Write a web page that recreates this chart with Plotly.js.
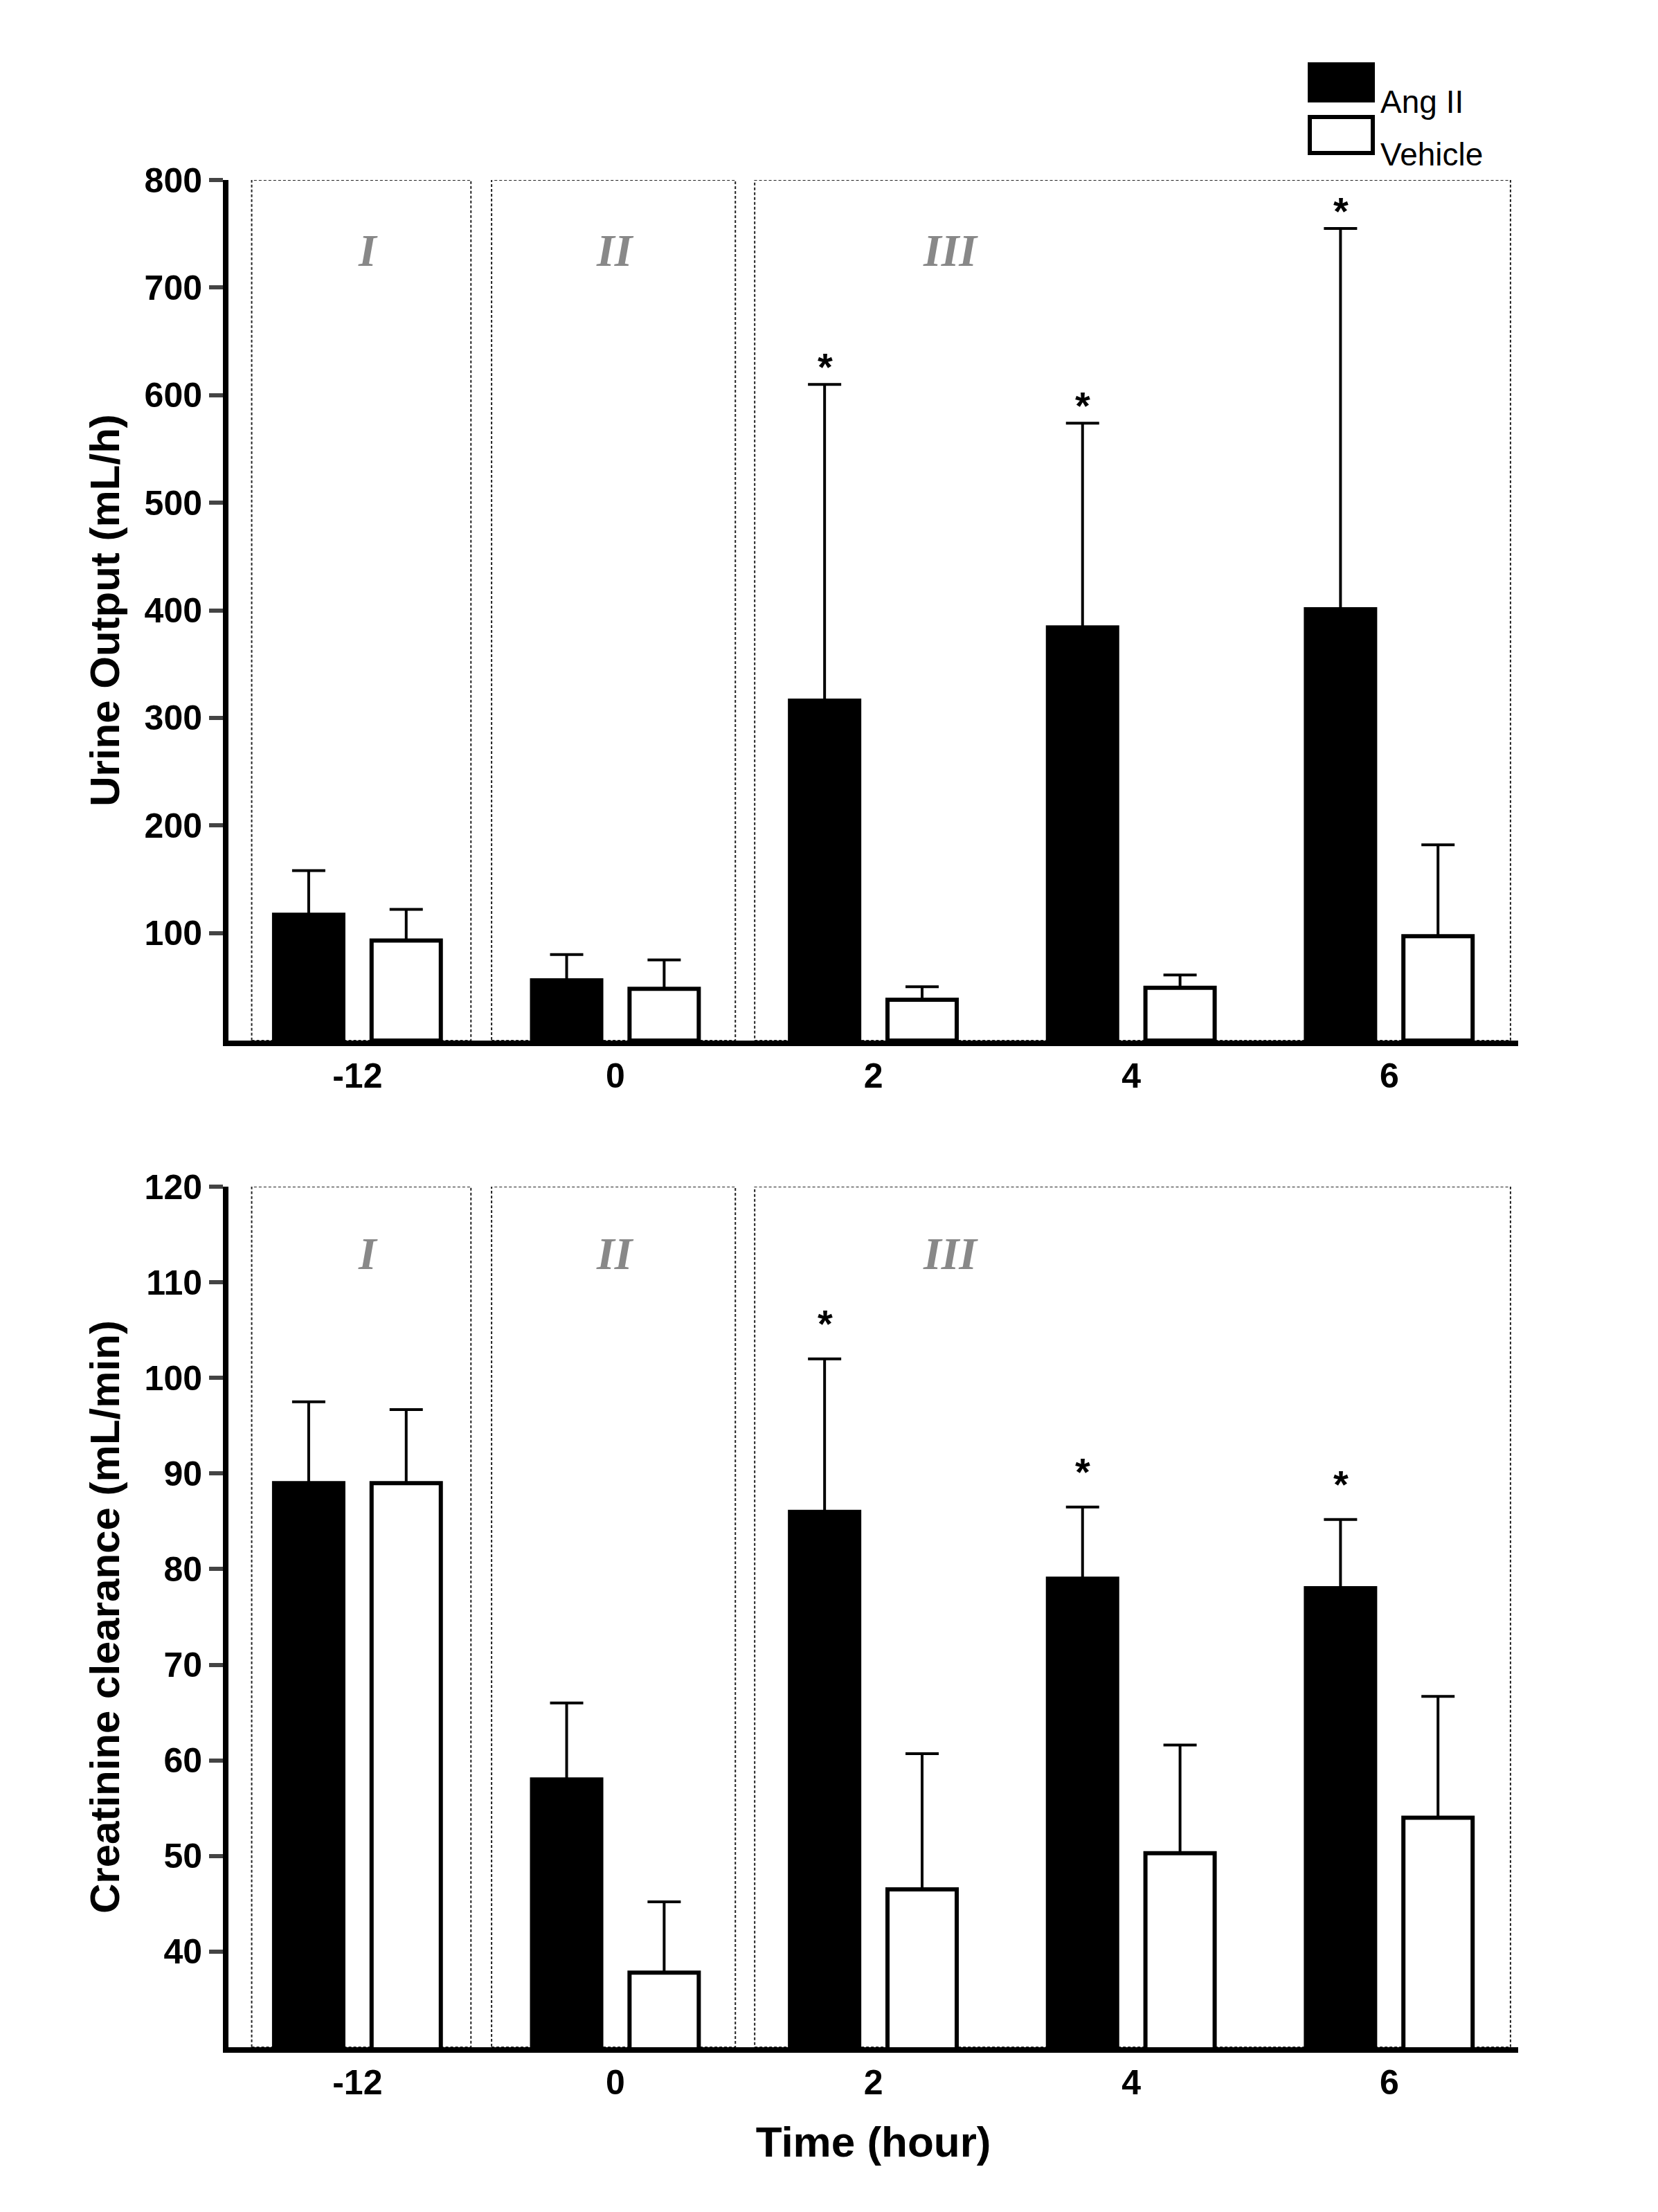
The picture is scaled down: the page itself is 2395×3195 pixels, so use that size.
<!DOCTYPE html>
<html>
<head>
<meta charset="utf-8">
<script src="https://cdn.plot.ly/plotly-3.0.1.min.js"></script>
<style>body{margin:0;background:#fff}#chart{width:2395px;height:3195px}</style>
</head>
<body>
<div id="chart"></div>
<script>
// data
var times = ["-12", "0", "2", "4", "6"];

var urineAng = [117, 56, 316, 384, 401];
var urineAngErr = [41, 24, 294, 190, 354];
var urineVeh = [93, 48, 38, 49, 97];
var urineVehErr = [29, 27, 12, 12, 85];

var creatAng = [89, 58, 86, 79, 78];
var creatAngErr = [8.5, 8, 16, 7.5, 7.2];
var creatVeh = [89, 37.8, 46.5, 50.3, 54];
var creatVehErr = [7.7, 7.4, 14.2, 11.3, 12.7];

var starIdx = [2, 3, 4];
var phases = ["I", "II", "III"];
var phaseSpans = [[-0.41, 0.44], [0.52, 1.465], [1.54, 4.47]];
var phaseLabelX = [0.04, 1.0, 2.3];
var legendNames = ["Ang II", "Vehicle"];

var FONT = "Liberation Sans, Arial, sans-serif";

function errOpts(arr) {
  return {type: "data", symmetric: false, array: arr, arrayminus: arr.map(function(){return 0;}),
          color: "black", thickness: 4, width: 24};
}

var traces = [
  {type: "bar", x: times, y: urineAng, name: "Ang II", xaxis: "x", yaxis: "y", showlegend: false,
   marker: {color: "black", line: {color: "black", width: 6}}, error_y: errOpts(urineAngErr)},
  {type: "bar", x: times, y: urineVeh, name: "Vehicle", xaxis: "x", yaxis: "y", showlegend: false,
   marker: {color: "white", line: {color: "black", width: 6}}, error_y: errOpts(urineVehErr)},
  {type: "bar", x: times, y: creatAng, name: "Ang II", showlegend: false, xaxis: "x2", yaxis: "y2",
   marker: {color: "black", line: {color: "black", width: 6}}, error_y: errOpts(creatAngErr)},
  {type: "bar", x: times, y: creatVeh, name: "Vehicle", showlegend: false, xaxis: "x2", yaxis: "y2",
   marker: {color: "white", line: {color: "black", width: 6}}, error_y: errOpts(creatVehErr)}
];

var shapes = [];
var annotations = [];
function addPanel(xa, ya, y0, y1, labelY, angVals, angErr, pad) {
  phaseSpans.forEach(function(s, i) {
    shapes.push({type: "rect", xref: xa, yref: ya, x0: s[0], x1: s[1], y0: y0, y1: y1,
                 line: {color: "#222", width: 2, dash: "4px,3px"}, layer: "below"});
    annotations.push({xref: xa, yref: ya, x: phaseLabelX[i], y: labelY, text: "<b><i>" + phases[i] + "</i></b>",
                      showarrow: false, font: {family: "Liberation Serif, serif", size: 66, color: "#888"}});
  });
  starIdx.forEach(function(i) {
    annotations.push({xref: xa, yref: ya, x: i, xshift: -70, y: angVals[i] + angErr[i], yanchor: "bottom", yshift: pad,
                      text: "<b>*</b>", showarrow: false, font: {family: FONT, size: 56, color: "black"}});
  });
}
addPanel("x", "y", 0, 800, 735, urineAng, urineAngErr, -8);
addPanel("x2", "y2", 30, 120, 113, creatAng, creatAngErr, 18);

// legend drawn by hand (big boxes as in the figure)
legendNames.forEach(function(n, i) {
  var top = 1 - (93 + i * 76) / 3195, bot = 1 - (145 + i * 76) / 3195;
  shapes.push({type: "rect", xref: "paper", yref: "paper", x0: 1892 / 2395, x1: 1983 / 2395, y0: bot, y1: top,
               fillcolor: i === 0 ? "black" : "white", line: {color: "black", width: 6}});
  annotations.push({xref: "paper", yref: "paper", x: 1992 / 2395, y: (top + bot) / 2, xanchor: "left",
                    text: n, showarrow: false, font: {family: FONT, size: 46, color: "black"}});
});

function xax(anchor, titleText) {
  return {domain: [0.1378, 0.9157], anchor: anchor, type: "category", range: [-0.5, 4.5],
          showline: true, linewidth: 8, linecolor: "black", ticks: "", showgrid: false,
          tickfont: {family: FONT, size: 50, color: "black", weight: "bold"},
          title: {text: titleText, font: {family: FONT, size: 62, color: "black", weight: "bold"}, standoff: 40}};
}
function yax(anchor, dom, range, vals, titleText) {
  return {domain: dom, anchor: anchor, range: range, tickvals: vals, showline: true, linewidth: 8,
          linecolor: "black", ticks: "outside", ticklen: 20, tickwidth: 6, showgrid: false, zeroline: false,
          tickfont: {family: FONT, size: 50, color: "black", weight: "bold"},
          title: {text: titleText, font: {family: FONT, size: 60, color: "black", weight: "bold"}, standoff: 20}};
}

var layout = {
  width: 2395, height: 3195, margin: {l: 0, r: 0, t: 0, b: 0},
  paper_bgcolor: "white", plot_bgcolor: "white", showlegend: false,
  barmode: "group", bargap: 0.244, bargroupgap: 0.29,
  xaxis: xax("y", ""),
  yaxis: yax("x", [0.5296, 0.9186], [0, 800], [100, 200, 300, 400, 500, 600, 700, 800], "Urine Output (mL/h)"),
  xaxis2: xax("y2", "Time (hour)"),
  yaxis2: yax("x2", [0.0745, 0.4635], [30, 120], [40, 50, 60, 70, 80, 90, 100, 110, 120], "Creatinine clearance (mL/min)"),
  shapes: shapes, annotations: annotations
};

Plotly.newPlot("chart", traces, layout, {staticPlot: true});
</script>
</body>
</html>
